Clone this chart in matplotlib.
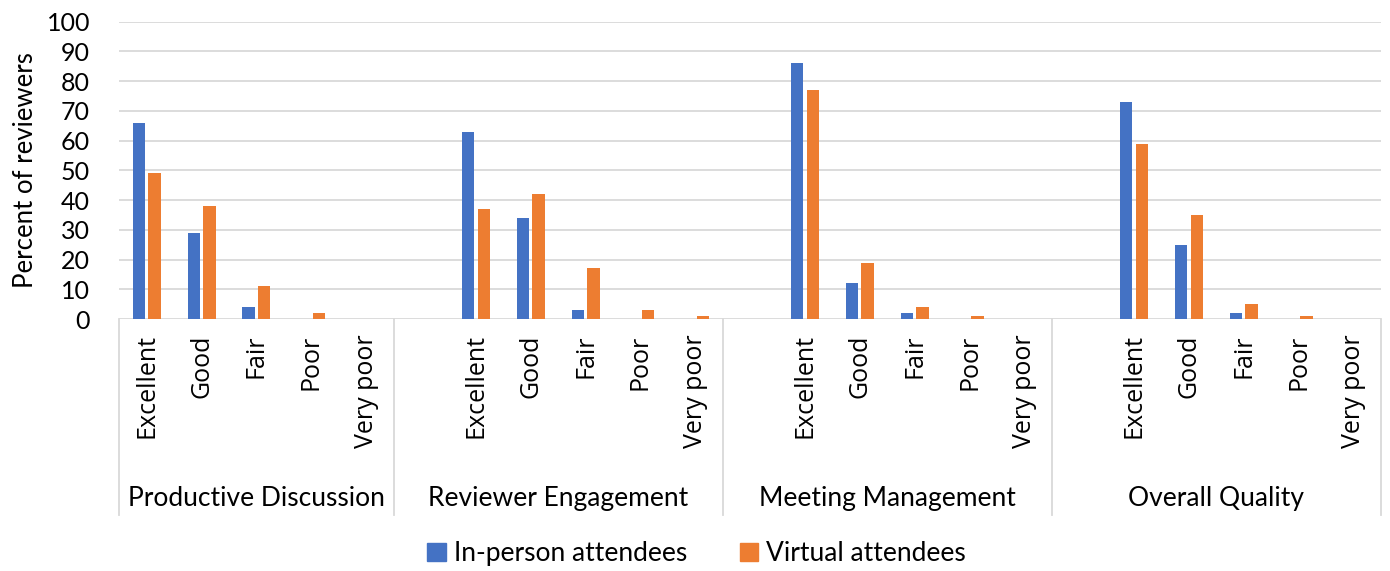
import matplotlib
matplotlib.use("Agg")
import matplotlib.pyplot as plt
from matplotlib.patches import Patch
import matplotlib.transforms as mtransforms
import numpy as np

# Survey results (percent of reviewers)
groups = ["Productive Discussion", "Reviewer Engagement", "Meeting Management", "Overall Quality"]
ratings = ["Excellent", "Good", "Fair", "Poor", "Very poor"]
in_person = [
    [66, 29, 4, 0, 0],
    [63, 34, 3, 0, 0],
    [86, 12, 2, 0, 0],
    [73, 25, 2, 0, 0],
]
virtual = [
    [49, 38, 11, 2, 0],
    [37, 42, 17, 3, 1],
    [77, 19, 4, 1, 0],
    [59, 35, 5, 1, 0],
]
series_names = ["In-person attendees", "Virtual attendees"]
y_ticks = [0, 10, 20, 30, 40, 50, 60, 70, 80, 90, 100]

BLUE = "#4472C4"
ORANGE = "#ED7D31"
GRID = "#D9D9D9"
TEXT = "#000000"

fig = plt.figure(figsize=(13.9, 5.71), dpi=100)
ax = fig.add_axes([0.0858, 0.4413, 0.9077, 0.5207])

# Slot layout: first group has 5 slots, later groups have a leading blank slot
positions = []
labels = []
bounds = [0]
slot = 0
for gi, g in enumerate(groups):
    if gi > 0:
        slot += 1
    for r in ratings:
        positions.append(slot + 0.5)
        labels.append(r)
        slot += 1
    bounds.append(slot)
positions = np.array(positions)
total_slots = slot

ip_vals = np.array(in_person).ravel()
vr_vals = np.array(virtual).ravel()

w = 0.225
off = 0.143
ax.bar(positions - off, ip_vals, width=w, color=BLUE, zorder=3)
ax.bar(positions + off, vr_vals, width=w, color=ORANGE, zorder=3)

ax.set_xlim(0, total_slots)
ax.set_ylim(0, 100)
ax.set_yticks(y_ticks)
ax.yaxis.grid(True, color=GRID, linewidth=1.3, zorder=0)
ax.set_axisbelow(True)
for s in ["top", "right", "left", "bottom"]:
    ax.spines[s].set_visible(False)

ax.tick_params(axis="y", length=0, pad=21, labelsize=18, labelcolor=TEXT)
for t in ax.get_yticklabels():
    t.set_fontfamily("Lato")

ax.set_xticks(positions)
ax.set_xticklabels(labels, rotation=90, fontsize=18, family="Open Sans", color=TEXT)
ax.tick_params(axis="x", length=0, pad=11)

ax.set_ylabel("Percent of reviewers", fontsize=18.5, family="Lato", labelpad=6, color=TEXT)

# Group separators and group titles below the axis
trans = mtransforms.blended_transform_factory(ax.transData, ax.transAxes)
for b in bounds:
    ax.plot([b, b], [0, -0.66], transform=trans, color=GRID, linewidth=1.3, clip_on=False)
for gi, g in enumerate(groups):
    cx = (bounds[gi] + bounds[gi + 1]) / 2
    ax.text(cx, -0.605, g, transform=trans, ha="center", va="center",
            fontsize=19, family="Lato", color=TEXT)

handles = [Patch(color=BLUE), Patch(color=ORANGE)]
fig.legend(handles, series_names, loc="center", bbox_to_anchor=(0.501, 0.03),
           ncol=2, frameon=False, prop={"family": "Lato", "size": 19},
           handlelength=0.7, handleheight=0.7, handletextpad=0.3, columnspacing=2.0)

fig.savefig("out.png", dpi=100)
